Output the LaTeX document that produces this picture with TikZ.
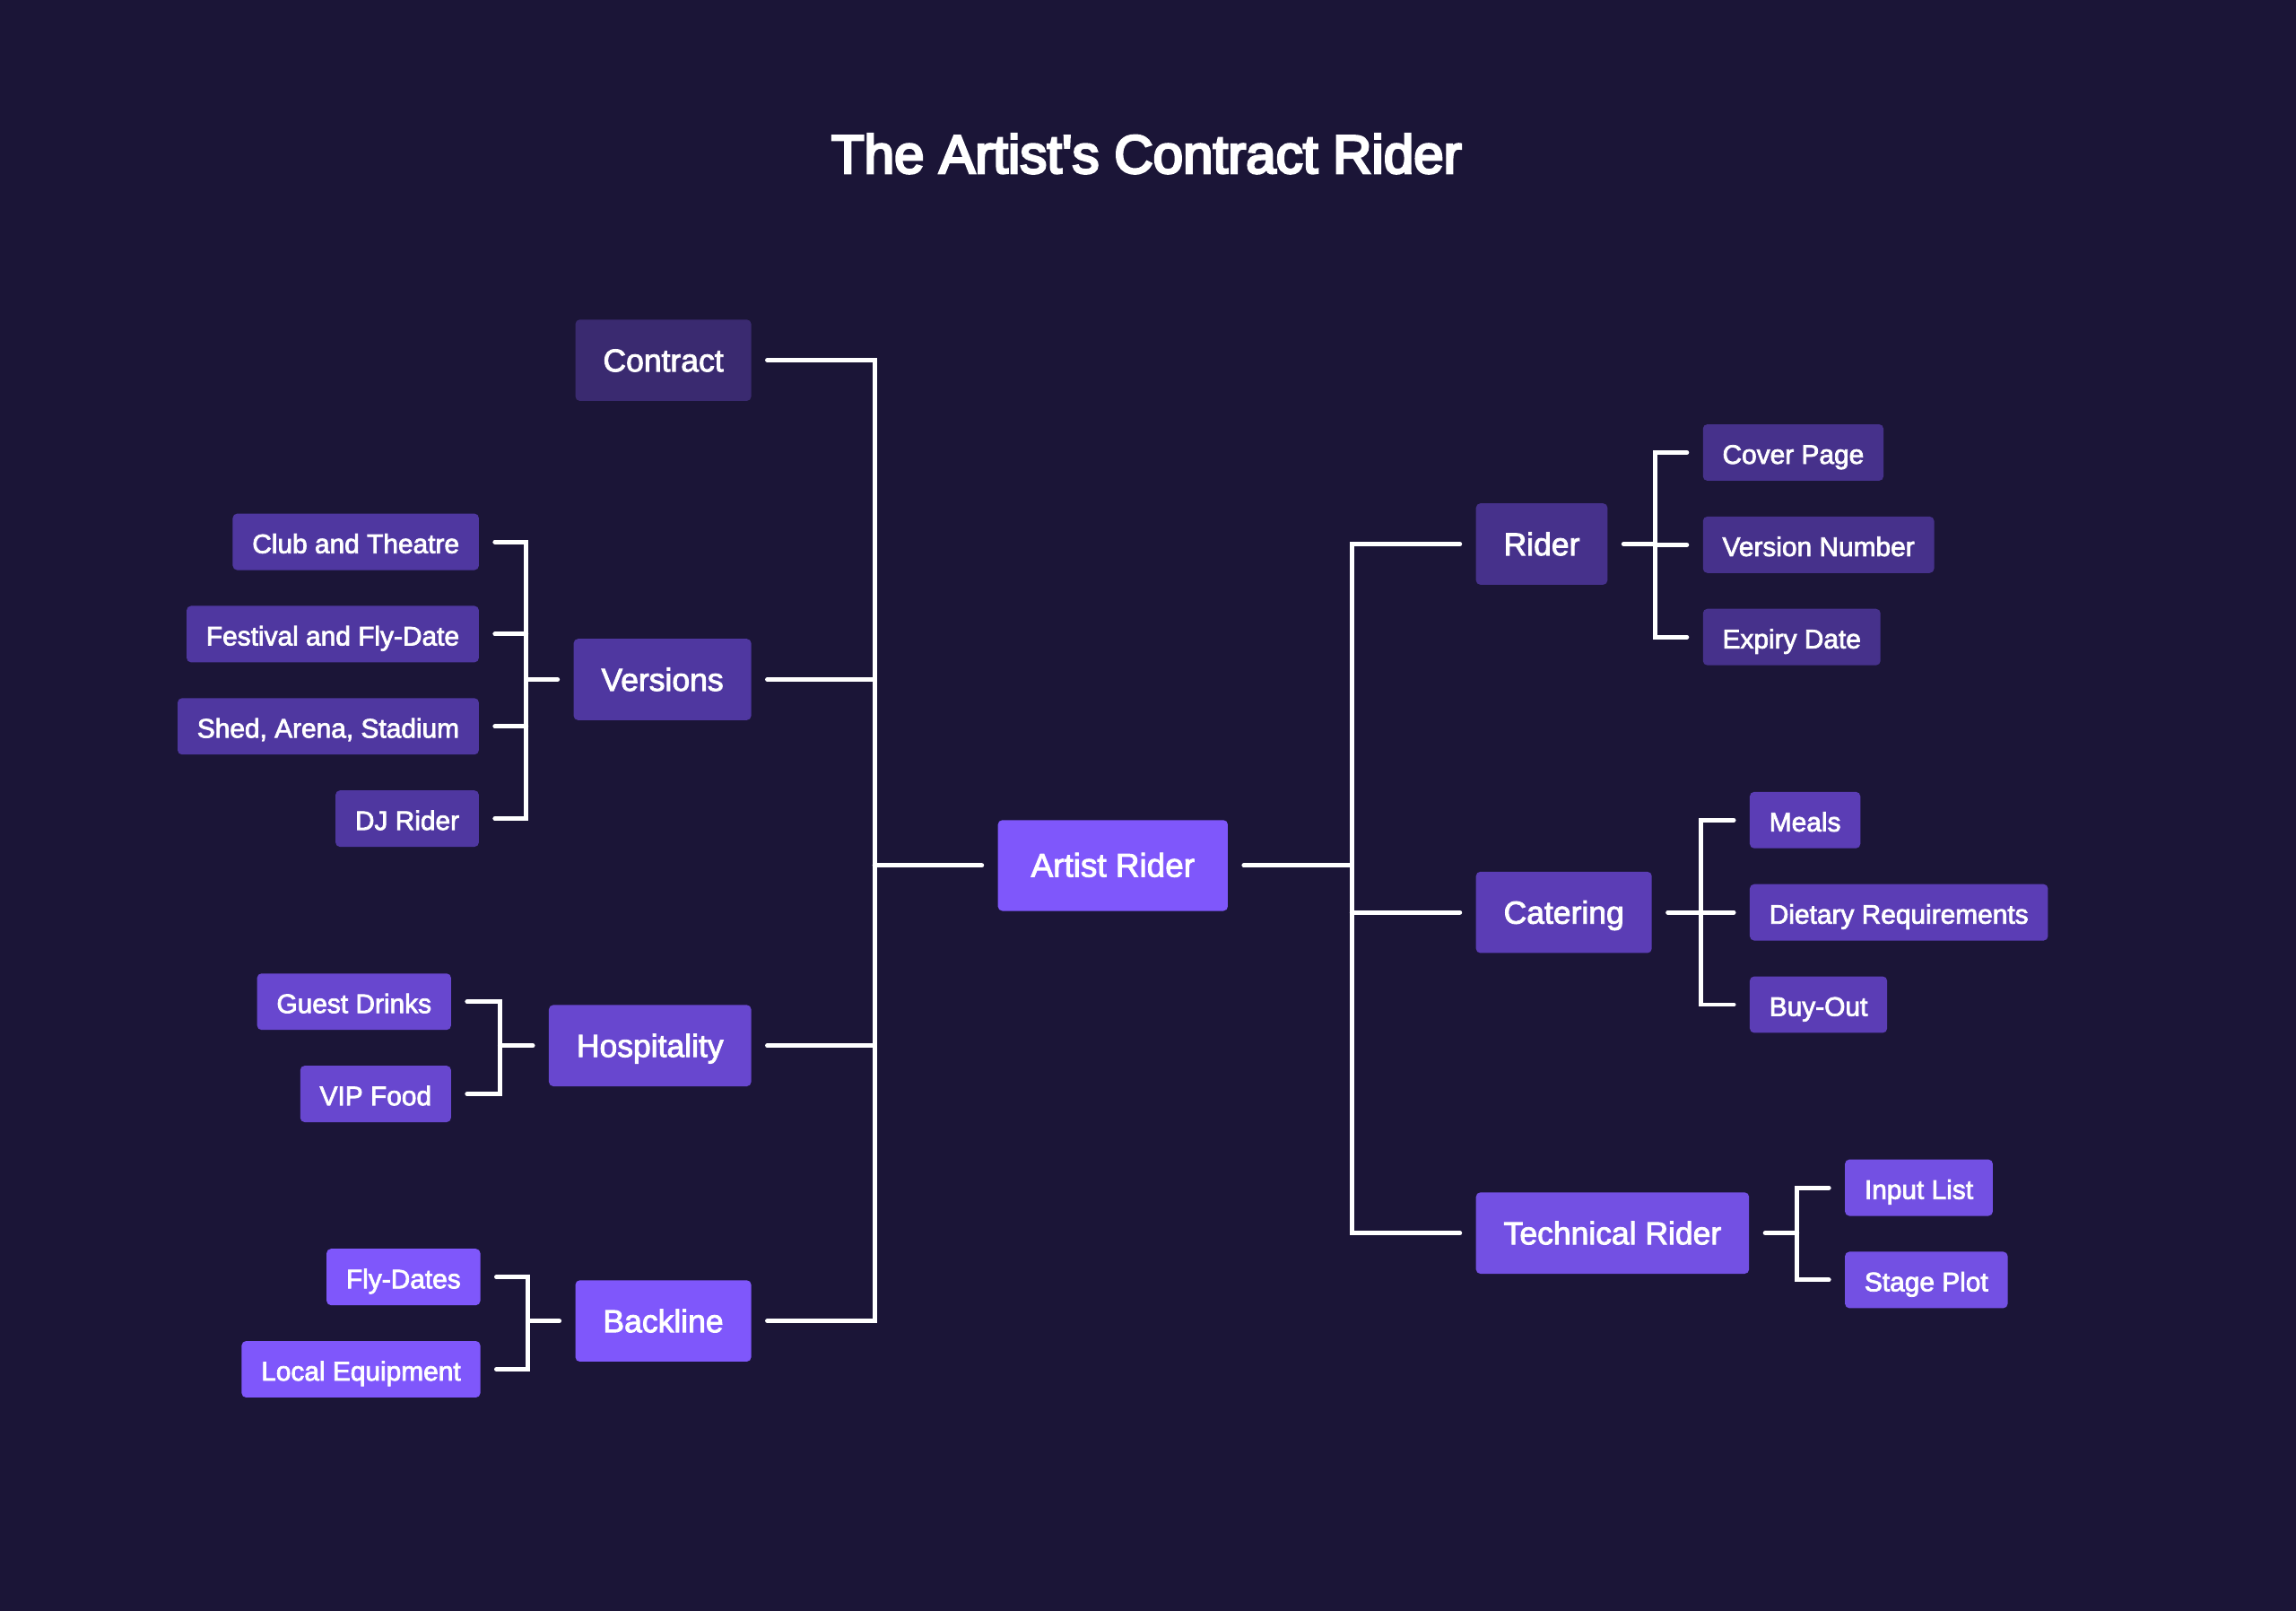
\documentclass[tikz,border=0pt]{standalone}
\usepackage{fontspec}
\setmainfont{Liberation Sans}[FakeBold=2.5]
\newfontfamily\titlefont{Liberation Sans}[FakeBold=4.5]
\usetikzlibrary{calc}

\definecolor{bgnavy}{HTML}{1B1537}
\definecolor{shadeA}{HTML}{3A2A70}
\definecolor{shadeB}{HTML}{46318B}
\definecolor{shadeC}{HTML}{4F37A0}
\definecolor{shadeD}{HTML}{5B3DB5}
\definecolor{shadeE}{HTML}{6847CF}
\definecolor{shadeF}{HTML}{7350E3}
\definecolor{shadeG}{HTML}{7F57FB}

\tikzset{
  box/.style={rounded corners=1.4pt, text=white, outer xsep=5.1pt, outer ysep=0pt,
    text height=0.716em, text depth=0pt},
  leafbox/.style={box, inner xsep=6.2pt, minimum height=17.9pt,
    font=\fontsize{8.5}{10}\selectfont},
  branchbox/.style={box, inner xsep=8.8pt, minimum height=25.8pt,
    font=\fontsize{10.1}{12}\selectfont},
  rootbox/.style={box, inner xsep=10.5pt, minimum height=28.8pt,
    font=\fontsize{10.5}{12}\selectfont},
  link/.style={draw=white, line width=1.4pt, line cap=round}
}

\begin{document}
\begin{tikzpicture}[x=0.01633cm, y=-0.01633cm]
  \def\leftparents{524}
  \def\rightparents{997}

  \fill[bgnavy] (0,0) rectangle (1568,1100);

  \node[text=white, font=\titlefont\fontsize{17.1}{20}\selectfont] (title) at (783,105)
      {The Artist\textquotesingle s Contract Rider};

  \node[rootbox, fill=shadeG] (artist) at (760,591) {Artist Rider};

  \node[branchbox, fill=shadeA, anchor=east] (contract)    at (\leftparents,246) {Contract};
  \node[branchbox, fill=shadeC, anchor=east] (versions)    at (\leftparents,464) {Versions};
  \node[branchbox, fill=shadeE, anchor=east] (hospitality) at (\leftparents,714) {Hospitality};
  \node[branchbox, fill=shadeG, anchor=east] (backline)    at (\leftparents,902) {Backline};

  \node[branchbox, fill=shadeB, anchor=west] (rider)    at (\rightparents,371.5) {Rider};
  \node[branchbox, fill=shadeD, anchor=west] (catering) at (\rightparents,623) {Catering};
  \node[branchbox, fill=shadeF, anchor=west] (tech)     at (\rightparents,842) {Technical Rider};

  \foreach \n/\t/\y in {club/Club and Theatre/370, fest/Festival and Fly-Date/433,
      shed/{Shed, Arena, Stadium}/496, dj/DJ Rider/559}
    \node[leafbox, fill=shadeC, anchor=east] (\n) at (338,\y) {\t};
  \foreach \n/\t/\y in {guest/Guest Drinks/684, vip/VIP Food/747}
    \node[leafbox, fill=shadeE, anchor=east] (\n) at (319,\y) {\t};
  \foreach \n/\t/\y in {fly/Fly-Dates/872, local/Local Equipment/935}
    \node[leafbox, fill=shadeG, anchor=east] (\n) at (339,\y) {\t};

  \foreach \n/\t/\y in {cover/Cover Page/309, vnum/Version Number/372, expiry/Expiry Date/435}
    \node[leafbox, fill=shadeB, anchor=west] (\n) at (1152,\y) {\t};
  \foreach \n/\t/\y in {meals/Meals/560, diet/Dietary Requirements/623, buyout/Buy-Out/686}
    \node[leafbox, fill=shadeD, anchor=west] (\n) at (1184,\y) {\t};
  \foreach \n/\t/\y in {input/Input List/811, stage/Stage Plot/874}
    \node[leafbox, fill=shadeF, anchor=west] (\n) at (1249,\y) {\t};

  \coordinate (lbus)  at ($(versions.east)!.5!(artist.west)$);
  \coordinate (rbus)  at ($(artist.east)!.5!(rider.west)$);
  \coordinate (vbus)  at ($(club.east)!.5!(versions.west)$);
  \coordinate (hbus)  at ($(guest.east)!.5!(hospitality.west)$);
  \coordinate (bbus)  at ($(fly.east)!.5!(backline.west)$);
  \coordinate (rdbus) at ($(rider.east)!.5!(cover.west)$);
  \coordinate (cbus)  at ($(catering.east)!.5!(meals.west)$);
  \coordinate (tbus)  at ($(tech.east)!.5!(input.west)$);

  \draw[link] (contract.east) -| (lbus) |- (backline.east);
  \draw[link] (versions.east) -- (versions.east -| lbus);
  \draw[link] (hospitality.east) -- (hospitality.east -| lbus);
  \draw[link] (artist.west -| lbus) -- (artist.west);

  \draw[link] (rider.west) -| (rbus) |- (tech.west);
  \draw[link] (catering.west) -- (catering.west -| rbus);
  \draw[link] (artist.east) -- (artist.east -| rbus);

  \draw[link] (club.east) -| (vbus) |- (dj.east);
  \foreach \n in {fest,shed}
    \draw[link] (\n.east) -- (\n.east -| vbus);
  \draw[link] (versions.west -| vbus) -- (versions.west);

  \draw[link] (guest.east) -| (hbus) |- (vip.east);
  \draw[link] (hospitality.west -| hbus) -- (hospitality.west);

  \draw[link] (fly.east) -| (bbus) |- (local.east);
  \draw[link] (backline.west -| bbus) -- (backline.west);

  \draw[link] (cover.west) -| (rdbus) |- (expiry.west);
  \draw[link] (vnum.west) -- (vnum.west -| rdbus);
  \draw[link] (rider.east) -- (rider.east -| rdbus);

  \draw[link] (meals.west) -| (cbus) |- (buyout.west);
  \draw[link] (diet.west) -- (diet.west -| cbus);
  \draw[link] (catering.east) -- (catering.east -| cbus);

  \draw[link] (input.west) -| (tbus) |- (stage.west);
  \draw[link] (tech.east) -- (tech.east -| tbus);
\end{tikzpicture}
\end{document}
